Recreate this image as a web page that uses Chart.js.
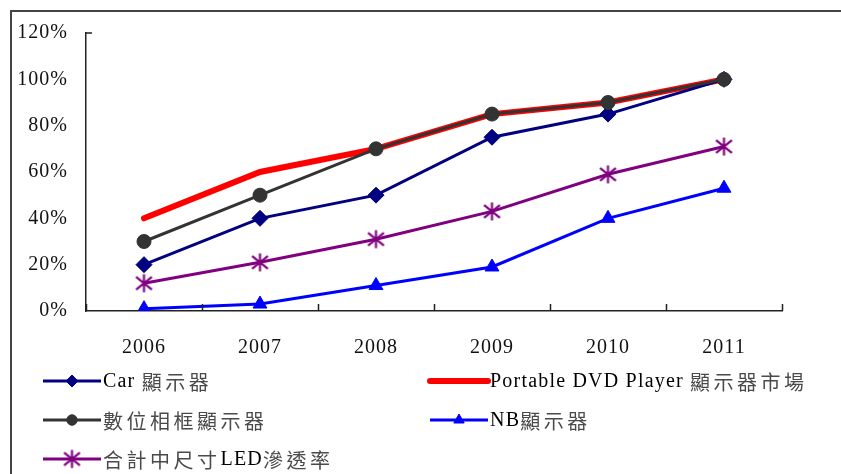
<!DOCTYPE html>
<html>
<head>
<meta charset="utf-8">
<script src="https://cdn.jsdelivr.net/npm/chart.js@4.4.1/dist/chart.umd.min.js"></script>
<style>
  html, body { margin: 0; padding: 0; background: #fff; overflow: hidden; }
  #wrap { position: relative; width: 841px; height: 474px; }
  #frame { position: absolute; left: 10px; top: 10px; width: 900px; height: 500px;
           border-left: 2px solid #444; border-top: 2px solid #444; }
  #c { position: absolute; left: 0; top: 0; }
</style>
</head>
<body>
<div id="wrap">
  <div id="frame"></div>
  <canvas id="c" width="841" height="474"></canvas>
</div>
<script>
// Categories and series (penetration rate, %)
const years = ['2006', '2007', '2008', '2009', '2010', '2011'];
const carDisplay  = [20, 40, 50, 75, 85, 100];
const portableDvd = [40, 60, 70, 85, 90, 100];
const photoFrame  = [30, 50, 70, 85, 90, 100];
const nbDisplay   = [1, 3, 11, 19, 40, 53];
const ledTotal    = [12, 21, 31, 43, 59, 71];
const yTicks = [0, 20, 40, 60, 80, 100, 120];
const seriesNames = [
  'Car 顯示器',
  'Portable DVD Player 顯示器市場',
  '數位相框顯示器',
  'NB顯示器',
  '合計中尺寸LED滲透率'
];

const LATIN_FONT = '"Liberation Serif", "Times New Roman", serif';
const CJK_FONT = '"Noto Sans CJK TC", "Noto Sans CJK SC", sans-serif';

// Asterisk marker: vertical bar plus two diagonals
function asterisk(color, r, w) {
  const s = Math.ceil(2 * r + 2 * w);
  const c = document.createElement('canvas');
  c.width = s; c.height = s;
  const g = c.getContext('2d');
  const m = s / 2, d = r * 0.88;
  g.strokeStyle = color; g.lineWidth = w;
  g.beginPath();
  g.moveTo(m, m - r); g.lineTo(m, m + r);
  g.moveTo(m - d, m - d * 0.8); g.lineTo(m + d, m + d * 0.8);
  g.moveTo(m + d, m - d * 0.8); g.lineTo(m - d, m + d * 0.8);
  g.stroke();
  return c;
}
const starMark = asterisk('#800080', 9, 2.2);

function series(label, data, color, width, style, radius, order) {
  return {
    label, data, order,
    borderColor: color, backgroundColor: color,
    borderWidth: width, tension: 0,
    pointStyle: style, pointRadius: radius, pointHoverRadius: radius,
    pointBackgroundColor: color, pointBorderColor: color, pointBorderWidth: 1
  };
}

const datasets = [
  series(seriesNames[0], carDisplay,  '#000080', 3,   'rectRot',  8, 1),
  series(seriesNames[1], portableDvd, '#ff0000', 6,   false,      0, 2),
  series(seriesNames[2], photoFrame,  '#333333', 3,   'circle',   7, 0),
  series(seriesNames[3], nbDisplay,   '#0000ff', 3,   'triangle', 8, 3),
  series(seriesNames[4], ledTotal,    '#800080', 3,   starMark,   9, 4)
];
datasets[1].borderCapStyle = 'round';

// Text with Latin and CJK runs in different faces
function drawMixed(ctx, text, x, y) {
  const runs = text.match(/[\u3400-\u9fff]+|[^\u3400-\u9fff]+/g) || [];
  ctx.textBaseline = 'middle';
  ctx.textAlign = 'left';
  for (const run of runs) {
    const cjk = /[\u3400-\u9fff]/.test(run);
    ctx.font = cjk ? '20px ' + CJK_FONT : '20px ' + LATIN_FONT;
    ctx.letterSpacing = cjk ? '3.5px' : '1.2px';
    ctx.fillStyle = cjk ? '#4a4a4a' : '#000';
    ctx.fillText(run, x, cjk ? y + 1 : y + 1);
    x += ctx.measureText(run).width;
  }
}

const legendSlots = [
  { x: 43,  y: 381 }, { x: 430, y: 381 },
  { x: 43,  y: 420 }, { x: 430, y: 420 },
  { x: 43,  y: 459 }
];

const decorations = {
  id: 'decorations',
  beforeDraw(chart) { chart.ctx.letterSpacing = '1px'; },
  afterDraw(chart) {
    const ctx = chart.ctx;
    const xs = chart.scales.x, ys = chart.scales.y;
    ctx.save();
    // inward tick marks on the category boundaries
    ctx.strokeStyle = '#222';
    ctx.lineWidth = 1.5;
    ctx.beginPath();
    for (let k = 0; k <= years.length; k++) {
      const px = Math.round(xs.getPixelForValue(k - 0.5)) + 0.5;
      ctx.moveTo(px, ys.bottom);
      ctx.lineTo(px, ys.bottom - 7);
    }
    const topY = ys.getPixelForValue(yTicks[yTicks.length - 1]);
    ctx.moveTo(xs.left, topY);
    ctx.lineTo(xs.left + 6, topY);
    ctx.stroke();

    // legend
    chart.data.datasets.forEach((ds, i) => {
      const slot = legendSlots[i];
      const x0 = slot.x, x1 = slot.x + 58, cy = slot.y;
      ctx.strokeStyle = ds.borderColor;
      ctx.lineWidth = ds.borderWidth;
      ctx.lineCap = ds.pointRadius ? 'butt' : 'round';
      ctx.beginPath();
      ctx.moveTo(x0, cy); ctx.lineTo(x1, cy);
      ctx.stroke();
      if (ds.pointRadius) {
        ctx.fillStyle = ds.pointBackgroundColor;
        ctx.strokeStyle = ds.pointBorderColor;
        ctx.lineWidth = 1;
        Chart.helpers.drawPoint(ctx, {
          pointStyle: ds.pointStyle, radius: ds.pointRadius * 0.75,
          rotation: 0, borderWidth: 1
        }, (x0 + x1) / 2, cy);
      }
      drawMixed(ctx, ds.label, x1 + 2, cy);
    });
    ctx.restore();
    ctx.letterSpacing = '0px';
  }
};

new Chart(document.getElementById('c'), {
  type: 'line',
  data: { labels: years, datasets },
  options: {
    responsive: false,
    animation: false,
    events: [],
    layout: { padding: { left: 0, top: 33, right: 59, bottom: 113 } },
    plugins: { legend: { display: false }, tooltip: { enabled: false } },
    scales: {
      x: {
        offset: true,
        grid: { display: false, drawTicks: false },
        border: { display: true, color: '#222', width: 1.5 },
        ticks: { color: '#111', padding: 25, font: { family: LATIN_FONT, size: 20 } },
        afterFit(s) { s.height = 50; }
      },
      y: {
        min: 0, max: 120,
        afterBuildTicks(s) { s.ticks = yTicks.map(v => ({ value: v })); },
        grid: { display: false, drawTicks: false },
        border: { display: true, color: '#222', width: 1.5 },
        ticks: { color: '#111', padding: 18, font: { family: LATIN_FONT, size: 20 },
                 callback: v => v + '%' },
        afterFit(s) { s.width = 86; }
      }
    }
  },
  plugins: [decorations]
});
</script>
</body>
</html>
